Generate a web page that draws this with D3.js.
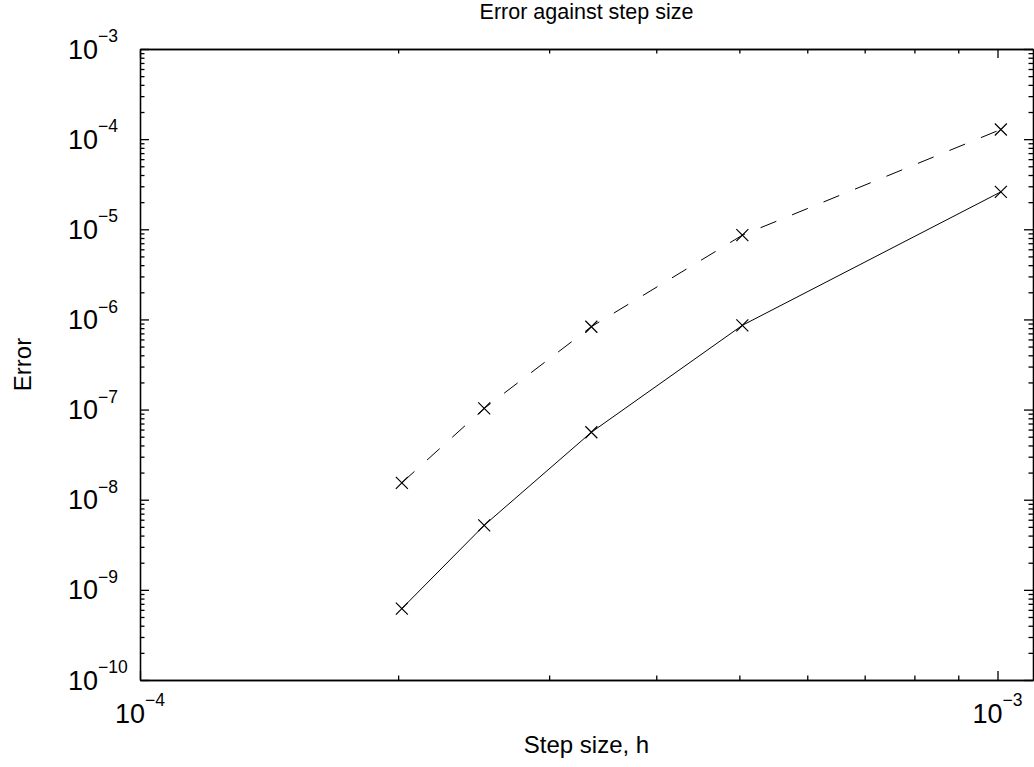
<!DOCTYPE html>
<html>
  <head>
    <meta charset="utf-8">
    <title>Error against step size</title>
    <script src="https://cdn.jsdelivr.net/npm/d3@7"></script>
    <style>
      body { margin: 0; background: #fff; }
      svg { display: block; font-family: "Liberation Sans", Arial, Helvetica, sans-serif; }
      .axis path, .axis line { stroke: #000; stroke-width: 1.3; }
      .axis path { fill: none; }
      .axis text { display: none; }
      .series { fill: none; stroke: #000; stroke-width: 1; }
      .marker { fill: none; stroke: #000; stroke-width: 1.2; }
    </style>
  </head>

  <body>
    <svg id="chart" width="1034" height="767"></svg>

    <script>
      // data
      const stepSizes = [2.02e-4, 2.52e-4, 3.36e-4, 5.04e-4, 1.009e-3];
      const errorSolid = [6.2e-10, 5.2e-9, 5.6e-8, 8.6e-7, 2.6e-5];
      const errorDashed = [1.54e-8, 1.03e-7, 8.3e-7, 8.6e-6, 1.28e-4];

      // ticks
      const xMajor = [1e-4, 1e-3];
      const xLabels = ["\u22124", "\u22123"];
      const yMajor = [1e-10, 1e-9, 1e-8, 1e-7, 1e-6, 1e-5, 1e-4, 1e-3];
      const yLabels = ["\u221210", "\u22129", "\u22128", "\u22127", "\u22126", "\u22125", "\u22124", "\u22123"];

      const svg = d3.select("#chart");
      const margin = { top: 49, right: 1, bottom: 87, left: 140 };
      const width = 1034, height = 767;

      const x = d3.scaleLog()
        .domain([1e-4, 1.1e-3])
        .range([margin.left, width - margin.right]);
      const y = d3.scaleLog()
        .domain([1e-10, 1e-3])
        .range([height - margin.bottom, margin.top]);

      // minor ticks: 2..9 in each decade
      function minors(lo, hi, max) {
        const out = [];
        for (let e = lo; e < hi; e++) {
          for (let m = 2; m <= 9; m++) {
            const v = m * Math.pow(10, e);
            if (v <= max) out.push(v);
          }
        }
        return out;
      }
      const xMinor = minors(-4, -3, 1.1e-3);
      const yMinor = minors(-10, -3, 1e-3);

      const x0 = margin.left, x1 = width - margin.right;
      const y0 = height - margin.bottom, y1 = margin.top;

      // axes (ticks point inward, box on)
      function drawAxis(axisFn, scale, pos, values, size) {
        svg.append("g")
          .attr("class", "axis")
          .attr("transform", pos)
          .call(axisFn(scale).tickValues(values).tickSizeInner(size).tickSizeOuter(0).tickFormat(""));
      }
      drawAxis(d3.axisBottom, x, "translate(0," + y0 + ")", xMajor, -9);
      drawAxis(d3.axisBottom, x, "translate(0," + y0 + ")", xMinor, -4.5);
      drawAxis(d3.axisTop, x, "translate(0," + y1 + ")", xMajor, -9);
      drawAxis(d3.axisTop, x, "translate(0," + y1 + ")", xMinor, -4.5);
      drawAxis(d3.axisLeft, y, "translate(" + x0 + ",0)", yMajor, -9);
      drawAxis(d3.axisLeft, y, "translate(" + x0 + ",0)", yMinor, -4.5);
      drawAxis(d3.axisRight, y, "translate(" + x1 + ",0)", yMajor, -9);
      drawAxis(d3.axisRight, y, "translate(" + x1 + ",0)", yMinor, -4.5);

      // tick labels as 10^n
      const xt = svg.append("g").selectAll("text")
        .data(xMajor)
        .enter().append("text")
          .attr("x", function(d) { return x(d); })
          .attr("y", y0 + 43)
          .attr("text-anchor", "middle")
          .style("font-size", "27px");
      xt.append("tspan").text("10");
      xt.append("tspan")
        .attr("dy", -17)
        .style("font-size", "17.5px")
        .text(function(d, i) { return xLabels[i]; });

      const yt = svg.append("g").selectAll("text")
        .data(yMajor)
        .enter().append("text")
          .attr("x", 68)
          .attr("y", function(d) { return y(d) + 9.6; })
          .style("font-size", "27px");
      yt.append("tspan").text("10");
      yt.append("tspan")
        .attr("dy", -16.5)
        .style("font-size", "17.5px")
        .text(function(d, i) { return yLabels[i]; });

      // series
      const line = d3.line()
        .x(function(d) { return x(d[0]); })
        .y(function(d) { return y(d[1]); });

      const series = [
        { values: errorSolid, dash: null },
        { values: errorDashed, dash: "17,17" }
      ];

      series.forEach(function(s) {
        const pts = stepSizes.map(function(h, i) { return [h, s.values[i]]; });
        svg.append("path")
          .datum(pts)
          .attr("class", "series")
          .attr("stroke-dasharray", s.dash)
          .attr("d", line);
        svg.append("g").selectAll("path")
          .data(pts)
          .enter().append("path")
            .attr("class", "marker")
            .attr("d", function(d) {
              const cx = x(d[0]), cy = y(d[1]), r = 6;
              return "M" + (cx - r) + "," + (cy - r) + "L" + (cx + r) + "," + (cy + r) +
                     "M" + (cx - r) + "," + (cy + r) + "L" + (cx + r) + "," + (cy - r);
            });
      });

      // titles
      svg.append("text")
        .attr("x", (x0 + x1) / 2)
        .attr("y", 19)
        .attr("text-anchor", "middle")
        .style("font-size", "21.5px")
        .text("Error against step size");
      svg.append("text")
        .attr("x", (x0 + x1) / 2)
        .attr("y", 753)
        .attr("text-anchor", "middle")
        .style("font-size", "24px")
        .text("Step size, h");
      svg.append("text")
        .attr("transform", "translate(31," + ((y0 + y1) / 2) + ") rotate(-90)")
        .attr("text-anchor", "middle")
        .style("font-size", "24px")
        .text("Error");
    </script>
  </body>
</html>
